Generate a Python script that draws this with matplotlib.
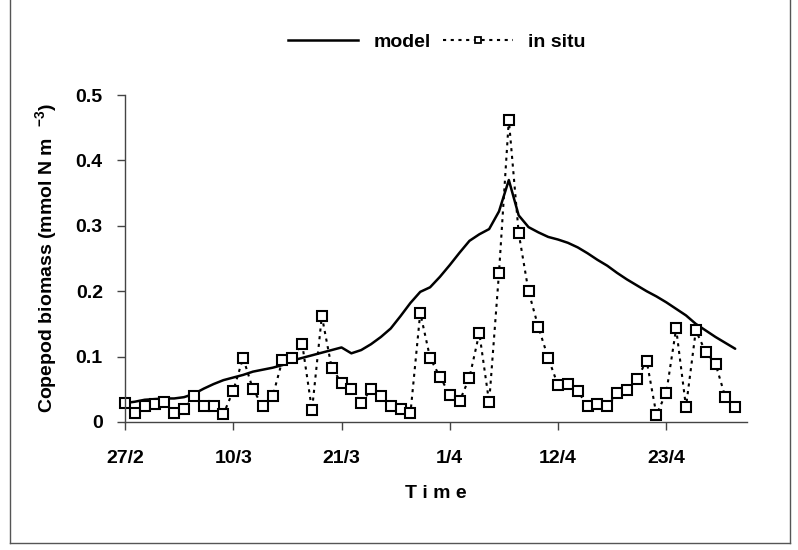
import matplotlib
matplotlib.use("Agg")
import matplotlib.pyplot as plt
from matplotlib.lines import Line2D
import numpy as np

plt.rcParams['font.family'] = ['Liberation Sans', 'DejaVu Sans']
plt.rcParams['mathtext.fontset'] = 'custom'
plt.rcParams['mathtext.rm'] = 'Liberation Sans:bold'
plt.rcParams['mathtext.default'] = 'rm'

# Daily sampling from 27 Feb (day 0) to 30 Apr (day 62)
tick_days = [0, 11, 22, 33, 44, 55]
tick_labels = ["27/2", "10/3", "21/3", "1/4", "12/4", "23/4"]

in_situ = [0.029, 0.013, 0.024, 0.027, 0.030, 0.013, 0.020, 0.039, 0.024, 0.024,
           0.012, 0.048, 0.098, 0.050, 0.024, 0.039, 0.095, 0.098, 0.120, 0.018,
           0.162, 0.083, 0.060, 0.050, 0.029, 0.050, 0.040, 0.024, 0.020, 0.013,
           0.167, 0.098, 0.069, 0.042, 0.032, 0.068, 0.136, 0.030, 0.228, 0.462,
           0.289, 0.200, 0.145, 0.098, 0.056, 0.058, 0.047, 0.025, 0.027, 0.024,
           0.044, 0.049, 0.065, 0.094, 0.011, 0.045, 0.143, 0.023, 0.140, 0.107,
           0.089, 0.038, 0.023]

model = [0.029, 0.031, 0.034, 0.035, 0.036, 0.036, 0.038, 0.043, 0.051, 0.058,
         0.064, 0.068, 0.072, 0.077, 0.080, 0.083, 0.087, 0.094, 0.098, 0.102,
         0.106, 0.110, 0.114, 0.105, 0.110, 0.119, 0.130, 0.143, 0.162, 0.182,
         0.199, 0.206, 0.222, 0.240, 0.259, 0.277, 0.287, 0.295, 0.322, 0.370,
         0.316, 0.298, 0.290, 0.283, 0.279, 0.274, 0.267, 0.258, 0.248, 0.239,
         0.228, 0.218, 0.209, 0.200, 0.192, 0.183, 0.173, 0.163, 0.150, 0.140,
         0.130, 0.121, 0.112]

days = np.arange(len(in_situ))
FS = 14
DOTS = (0, (1.5, 2.2))

fig = plt.figure(figsize=(7.98, 5.50), dpi=100)
ax = fig.add_axes([125 / 798, 1 - 422 / 550, (747 - 125) / 798, (422 - 95) / 550])

ax.plot(days, model, color='black', lw=1.8, solid_capstyle='round')
ax.plot(days, in_situ, color='black', lw=1.5, linestyle=DOTS,
        marker='s', markersize=6.6, markerfacecolor='white',
        markeredgecolor='black', markeredgewidth=1.5, clip_on=False)

ax.set_xlim(0, 63.2)
ax.set_ylim(0, 0.5)
ax.set_yticks([0, 0.1, 0.2, 0.3, 0.4, 0.5])
ax.set_yticklabels(["0", "0.1", "0.2", "0.3", "0.4", "0.5"])
ax.set_xticks(tick_days)
ax.set_xticklabels(tick_labels)

for s in ['top', 'right']:
    ax.spines[s].set_visible(False)
for s in ['left', 'bottom']:
    ax.spines[s].set_color('#444444')
    ax.spines[s].set_linewidth(1.0)

ax.tick_params(axis='both', direction='out', length=6, width=1.0,
               color='#444444', labelsize=FS)
ax.tick_params(axis='x', pad=14)
ax.tick_params(axis='y', pad=10)
for lab in ax.get_xticklabels() + ax.get_yticklabels():
    lab.set_fontweight('bold')

ax.set_ylabel("Copepod biomass (mmol N m  $^{-3}$)", fontsize=FS,
              fontweight='bold', labelpad=12)
ax.set_xlabel("T i m e", fontsize=FS, fontweight='bold', labelpad=13)

handles = [
    Line2D([], [], color='black', lw=1.8),
    Line2D([], [], color='black', lw=1.5, linestyle=DOTS,
           marker='s', markersize=5, markerfacecolor='white',
           markeredgecolor='black', markeredgewidth=1.3),
]
leg = fig.legend(handles, ["model", "in situ"], loc='center',
                 bbox_to_anchor=(437 / 798, 1 - 42 / 550), ncol=2,
                 frameon=False, handlelength=3.6, columnspacing=0.6,
                 handletextpad=0.8, fontsize=FS)
for t in leg.get_texts():
    t.set_fontweight('bold')

# Frame around the figure
for xs, ys in [((10, 10), (0, 543)), ((10, 790), (543, 543)), ((790, 790), (0, 543))]:
    fig.add_artist(Line2D([x / 798 for x in xs], [1 - y / 550 for y in ys],
                          color='#555555', lw=1.0))

fig.savefig("out.png", dpi=100)
